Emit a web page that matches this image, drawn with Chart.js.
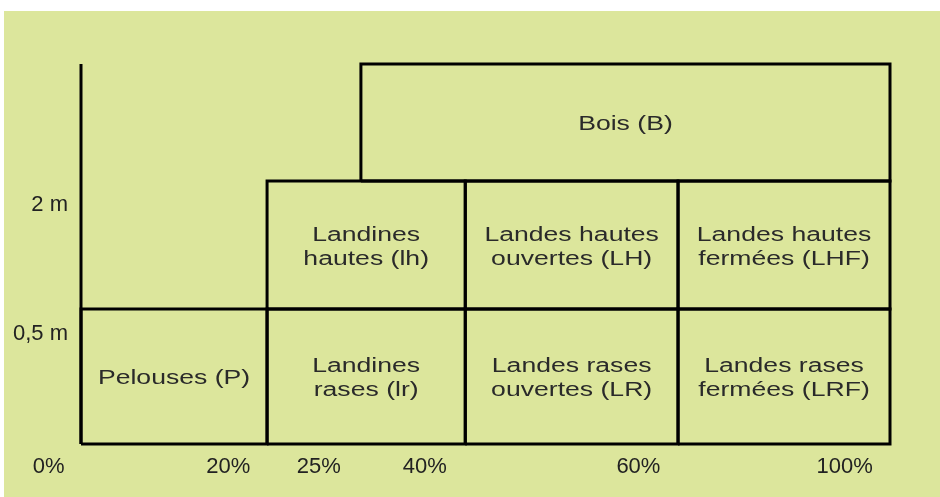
<!DOCTYPE html>
<html>
<head>
<meta charset="utf-8">
<script src="https://cdn.jsdelivr.net/npm/chart.js@4/dist/chart.umd.min.js"></script>
<style>
  body { margin: 0; background: #fff; }
  #wrap { position: absolute; left: 4px; top: 11px; width: 936px; height: 486px; background: #dce69c; }
</style>
</head>
<body>
<div id="wrap"><canvas id="myChart1" width="936" height="486"></canvas></div>
<script>
// cells of the diagram (x in schematic %, y in schematic height units)
var cellLabels = ['Bois (B)', 'Landines\nhautes (lh)', 'Landes hautes\nouvertes (LH)', 'Landes hautes\nfermées (LHF)',
  'Pelouses (P)', 'Landines\nrases (lr)', 'Landes rases\nouvertes (LR)', 'Landes rases\nfermées (LRF)'];
var cellLeft   = [34.6, 23,   47.5, 73.8, 0,    23,   47.5, 73.8];
var cellRight  = [100,  47.5, 73.8, 100,  23,   47.5, 73.8, 100];
var cellBottom = [69.2, 35.5, 35.5, 35.5, 0,    0,    0,    0];
var cellTop    = [100,  69.2, 69.2, 69.2, 35.5, 35.5, 35.5, 35.5];

// vertical axis line
var axisX = [0, 0];
var axisY = [0, 100];

// tick labels
var xTickPos = [-4, 18.2, 29.4, 42.5, 68.9, 94.4];
var xTickLabels = ['0%', '20%', '25%', '40%', '60%', '100%'];
var yTickPos = [29, 63];
var yTickLabels = ['0,5 m', '2 m'];

var datasets = cellLabels.map(function (name, i) {
  return {
    label: name,
    data: [
      {x: cellLeft[i], y: cellBottom[i]},
      {x: cellLeft[i], y: cellTop[i]},
      {x: cellRight[i], y: cellTop[i]},
      {x: cellRight[i], y: cellBottom[i]},
      {x: cellLeft[i], y: cellBottom[i]}
    ]
  };
});
datasets.push({
  label: 'axis',
  data: axisX.map(function (x, i) { return {x: x, y: axisY[i]}; })
});
datasets.forEach(function (d) {
  d.showLine = true;
  d.borderColor = '#000';
  d.borderWidth = 3;
  d.pointRadius = 0;
  d.borderJoinStyle = 'miter';
  d.clip = false;
});

var cellText = {
  id: 'cellText',
  afterDatasetsDraw: function (chart) {
    var ctx = chart.ctx, sx = chart.scales.x, sy = chart.scales.y;
    ctx.save();
    ctx.fillStyle = '#2a2a2a';
    ctx.font = '20px "Liberation Sans", Arial, sans-serif';
    ctx.textAlign = 'center';
    ctx.textBaseline = 'middle';
    cellLabels.forEach(function (name, i) {
      var cx = sx.getPixelForValue((cellLeft[i] + cellRight[i]) / 2);
      var cy = sy.getPixelForValue((cellBottom[i] + cellTop[i]) / 2) + 2;
      var lines = name.split('\n');
      lines.forEach(function (t, k) {
        var y = cy + (k - (lines.length - 1) / 2) * 24;
        ctx.save();
        ctx.translate(cx, y);
        ctx.scale(1.33, 1.05);
        ctx.fillText(t, 0, 0);
        ctx.restore();
      });
    });
    ctx.restore();
  }
};

var ctx = document.getElementById('myChart1').getContext('2d');
new Chart(ctx, {
  type: 'scatter',
  data: { datasets: datasets },
  options: {
    responsive: false,
    animation: false,
    layout: { padding: { left: 0, right: 17.64, top: 15, bottom: 0 } },
    plugins: { legend: { display: false }, tooltip: { enabled: false } },
    scales: {
      x: {
        type: 'linear', min: -6, max: 104,
        grid: { display: false, drawTicks: false },
        border: { display: false },
        afterBuildTicks: function (s) { s.ticks = xTickPos.map(function (v) { return {value: v}; }); },
        afterFit: function (s) { s.height = 53; },
        ticks: {
          padding: 10,
          color: '#222',
          font: { family: '"Liberation Sans", Arial, sans-serif', size: 22 },
          callback: function (v, i) { return xTickLabels[i]; }
        }
      },
      y: {
        type: 'linear', min: 0, max: 110,
        grid: { display: false, drawTicks: false },
        border: { display: false },
        afterBuildTicks: function (s) { s.ticks = yTickPos.map(function (v) { return {value: v}; }); },
        afterFit: function (s) { s.width = 28.46; },
        ticks: {
          mirror: true,
          crossAlign: 'far',
          padding: -19.5,
          color: '#222',
          font: { family: '"Liberation Sans", Arial, sans-serif', size: 22 },
          callback: function (v, i) { return yTickLabels[i]; }
        }
      }
    }
  },
  plugins: [cellText]
});
</script>
</body>
</html>
